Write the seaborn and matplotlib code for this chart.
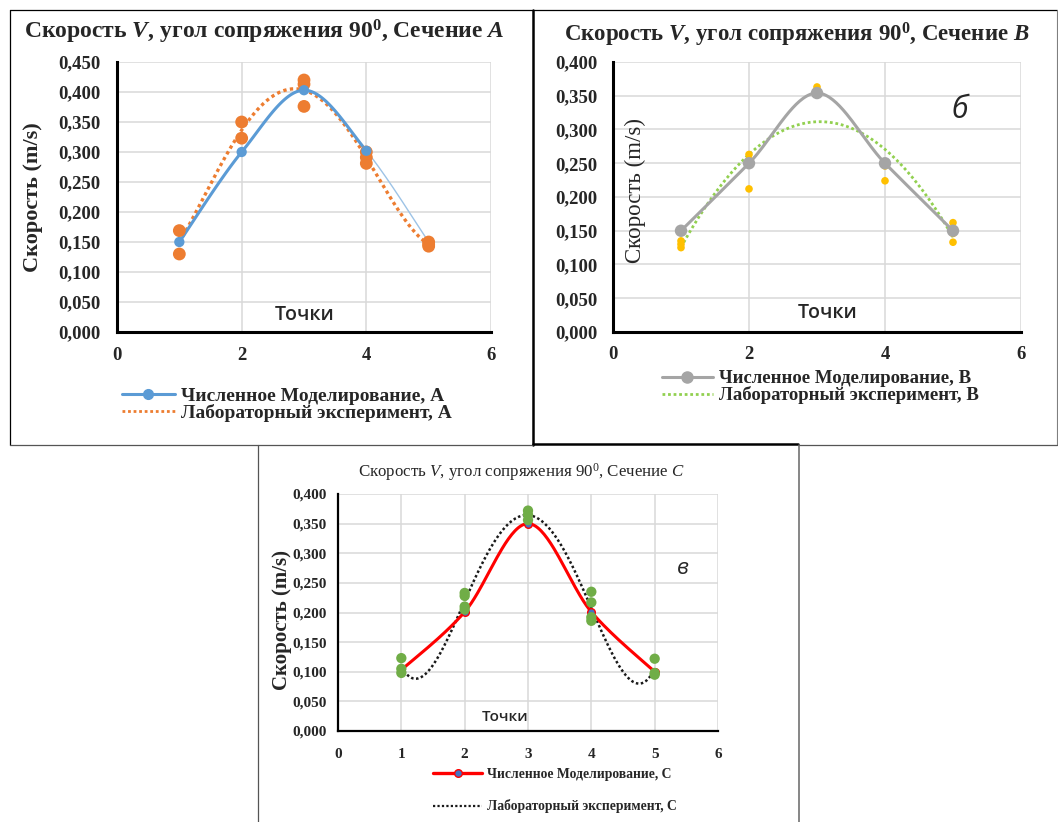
import numpy as np
import matplotlib
matplotlib.use("Agg")
import matplotlib.pyplot as plt
import seaborn as sns
from matplotlib.lines import Line2D

# ---------------- data ----------------
POINTS = [1, 2, 3, 4, 5]

A_SIM = [0.150, 0.300, 0.403, 0.302, 0.150]
A_LAB_X = [1, 1, 2, 2, 3, 3, 3, 4, 4, 4, 5, 5, 5]
A_LAB_Y = [0.169, 0.130, 0.350, 0.323, 0.420, 0.413, 0.376, 0.300, 0.291, 0.281, 0.150, 0.146, 0.143]

B_SIM = [0.150, 0.250, 0.354, 0.250, 0.150]
B_LAB_X = [1, 1, 1, 2, 2, 2, 3, 3, 4, 4, 5, 5, 5]
B_LAB_Y = [0.135, 0.130, 0.125, 0.263, 0.255, 0.212, 0.363, 0.358, 0.246, 0.224, 0.162, 0.146, 0.133]

C_SIM = [0.103, 0.201, 0.350, 0.201, 0.100]
C_LAB_X = [1, 1, 1, 2, 2, 2, 2, 3, 3, 3, 4, 4, 4, 4, 5, 5, 5]
C_LAB_Y = [0.123, 0.105, 0.098, 0.233, 0.228, 0.210, 0.205, 0.372, 0.365, 0.356,
           0.235, 0.217, 0.192, 0.186, 0.122, 0.098, 0.095]

A_YTICKS = [0.000, 0.050, 0.100, 0.150, 0.200, 0.250, 0.300, 0.350, 0.400, 0.450]
BC_YTICKS = [0.000, 0.050, 0.100, 0.150, 0.200, 0.250, 0.300, 0.350, 0.400]
AB_XTICKS = [0, 2, 4, 6]
C_XTICKS = [0, 1, 2, 3, 4, 5, 6]

TITLE_A = r"Скорость $\mathit{V}$, угол сопряжения 90$^{\mathrm{0}}$, Сечение $\mathit{A}$"
TITLE_B = r"Скорость $\mathit{V}$, угол сопряжения 90$^{\mathrm{0}}$, Сечение $\mathit{B}$"
TITLE_C = r"Скорость $\mathsf{V}$, угол сопряжения 90$^{\mathtt{0}}$, Сечение $\mathsf{C}$"
YLABEL = "Скорость (m/s)"
XLABEL = "Точки"
LEG_A = ["Численное Моделирование, А", "Лабораторный эксперимент, А"]
LEG_B = ["Численное Моделирование, B", "Лабораторный эксперимент, B"]
LEG_C = ["Численное Моделирование, C", "Лабораторный эксперимент, C"]

# ---------------- style ----------------
sns.set_style("white")
plt.rcParams["font.family"] = ["Liberation Serif", "DejaVu Serif"]
plt.rcParams["mathtext.fontset"] = "custom"
plt.rcParams["mathtext.rm"] = "Liberation Serif:bold"
plt.rcParams["mathtext.it"] = "Liberation Serif:italic:bold"
plt.rcParams["mathtext.sf"] = "Liberation Serif:italic"
plt.rcParams["mathtext.tt"] = "Liberation Serif"

W, H = 1058, 822
fig = plt.figure(figsize=(W / 100, H / 100), dpi=100)


def fx(px):
    return px / W


def fy(py):
    return 1 - py / H


def add_axes(l, t, r, b):
    return fig.add_axes([fx(l), fy(b), fx(r) - fx(l), (b - t) / H])


def smooth(x, y, n=40):
    P = np.column_stack([np.asarray(x, float), np.asarray(y, float)])
    Pe = np.vstack([P[0], P, P[-1]])
    segs = []
    for i in range(len(P) - 1):
        p0, p1, p2, p3 = Pe[i], Pe[i + 1], Pe[i + 2], Pe[i + 3]
        c1 = p1 + (p2 - p0) / 6
        c2 = p2 - (p3 - p1) / 6
        t = np.linspace(0, 1, n)[:, None]
        s = (1 - t) ** 3 * p1 + 3 * (1 - t) ** 2 * t * c1 + 3 * (1 - t) * t ** 2 * c2 + t ** 3 * p2
        segs.append(s if i == 0 else s[1:])
    S = np.vstack(segs)
    return S[:, 0], S[:, 1]


def trend(x, y, order):
    xt = np.linspace(min(x), max(x), 300)
    return xt, np.polyval(np.polyfit(x, y, order), xt)


def setup(ax, xticks, yticks, ymax, fs, spine_lw, ypad, xpad):
    ax.set_xlim(0, 6)
    ax.set_ylim(0, ymax)
    ax.set_xticks(xticks)
    ax.set_xticklabels([str(v) for v in xticks])
    ax.set_yticks(yticks)
    ax.set_yticklabels([f"{v:.3f}".replace(".", ",") for v in yticks])
    for lab in ax.get_xticklabels() + ax.get_yticklabels():
        lab.set_fontsize(fs)
        lab.set_fontweight("bold")
        lab.set_fontfamily("Liberation Serif")
    ax.tick_params(axis="both", length=0)
    ax.tick_params(axis="y", pad=ypad)
    ax.tick_params(axis="x", pad=xpad)
    ax.grid(True, color="#d9d9d9", lw=1.1)
    ax.set_axisbelow(True)
    for s in ["top", "right"]:
        ax.spines[s].set_visible(False)
    for s in ["left", "bottom"]:
        ax.spines[s].set_color("black")
        ax.spines[s].set_linewidth(spine_lw)
    ax.set_xlabel("")
    ax.set_ylabel("")
    ax.set_facecolor("white")


DOT = (0, (1, 1))

# ---------------- panel A ----------------
axA = add_axes(117, 62, 491, 332)
BLUE, ORANGE = "#5B9BD5", "#ED7D31"
tx, ty = trend(A_LAB_X, A_LAB_Y, 4)
sns.lineplot(x=tx, y=ty, ax=axA, color=ORANGE, lw=2.4, linestyle=DOT, sort=False, estimator=None, zorder=3)
sx, sy = smooth(POINTS, A_SIM)
sns.lineplot(x=sx, y=sy, ax=axA, color="#9DC3E6", lw=1.0, sort=False, estimator=None, zorder=4)
m = sx <= 4
sns.lineplot(x=sx[m], y=sy[m], ax=axA, color=BLUE, lw=2.2, sort=False, estimator=None, zorder=4)
sns.scatterplot(x=A_LAB_X, y=A_LAB_Y, ax=axA, color=ORANGE, s=85, edgecolor="none", zorder=5)
sns.scatterplot(x=POINTS[:4], y=A_SIM[:4], ax=axA, color=BLUE, s=55, edgecolor="none", zorder=6)
setup(axA, AB_XTICKS, A_YTICKS, 0.45, 13.5, 2.2, 12, 11)

# ---------------- panel B ----------------
axB = add_axes(613, 62, 1021, 332)
GRAY, YEL, GREEN = "#A5A5A5", "#FFC000", "#92D050"
tx, ty = trend(B_LAB_X, B_LAB_Y, 2)
sns.lineplot(x=tx, y=ty, ax=axB, color=GREEN, lw=2.0, linestyle=DOT, sort=False, estimator=None, zorder=3)
sx, sy = smooth(POINTS, B_SIM)
sns.lineplot(x=sx, y=sy, ax=axB, color=GRAY, lw=2.2, sort=False, estimator=None, zorder=4)
sns.scatterplot(x=B_LAB_X, y=B_LAB_Y, ax=axB, color=YEL, s=30, edgecolor="none", zorder=5)
sns.scatterplot(x=POINTS, y=B_SIM, ax=axB, color=GRAY, s=80, edgecolor="none", zorder=6)
setup(axB, AB_XTICKS, BC_YTICKS, 0.40, 13.5, 2.2, 11, 10)

# ---------------- panel C ----------------
axC = add_axes(338, 494, 718, 731)
RED, MBLUE, LGREEN = "#FF0000", "#4472C4", "#70AD47"
tx, ty = trend(C_LAB_X, C_LAB_Y, 4)
sns.lineplot(x=tx, y=ty, ax=axC, color="#1a1a1a", lw=1.8, linestyle=DOT, sort=False, estimator=None, zorder=3)
sx, sy = smooth(POINTS, C_SIM)
sns.lineplot(x=sx, y=sy, ax=axC, color=RED, lw=2.2, sort=False, estimator=None, zorder=4)
sns.scatterplot(x=POINTS, y=C_SIM, ax=axC, color=MBLUE, s=30, edgecolor=RED, linewidth=1, zorder=5)
sns.scatterplot(x=C_LAB_X, y=C_LAB_Y, ax=axC, color=LGREEN, s=55, marker="o", edgecolor="none", zorder=6)
setup(axC, C_XTICKS, BC_YTICKS, 0.40, 11, 1.6, 8, 12)

# ---------------- texts ----------------
fig.text(fx(264), fy(32), TITLE_A, ha="center", va="center", fontsize=17, fontweight="bold")
fig.text(fx(797), fy(35), TITLE_B, ha="center", va="center", fontsize=16.5, fontweight="bold")
fig.text(fx(521), fy(472), TITLE_C, ha="center", va="center", fontsize=12.2)

fig.text(fx(33), fy(197), YLABEL, ha="center", va="center", rotation=90, fontsize=16, fontweight="bold")
fig.text(fx(635), fy(190), YLABEL, ha="center", va="center", rotation=90, fontsize=16.5)
fig.text(fx(282), fy(620), YLABEL, ha="center", va="center", rotation=90, fontsize=15, fontweight="bold")

for (x, y, fs) in [(305, 315, 14), (828, 313, 14), (505, 717, 11)]:
    fig.text(fx(x), fy(y), XLABEL, ha="center", va="center", fontsize=fs, family="Open Sans",
             fontweight="semibold")

fig.text(fx(960), fy(110), "б", ha="center", va="center", fontsize=22, style="italic", family="Open Sans")
fig.text(fx(683), fy(568), "в", ha="center", va="center", fontsize=16, style="italic", family="Open Sans")

# ---------------- legends ----------------
def legend(handles, labels, x, y, fs, hl, spacing, weight="bold"):
    lg = fig.legend(handles, labels, loc="upper left", bbox_to_anchor=(fx(x), fy(y)),
                    frameon=False, borderpad=0, borderaxespad=0, handlelength=hl,
                    handletextpad=0.35, labelspacing=spacing,
                    prop={"family": "Liberation Serif", "weight": weight, "size": fs})
    return lg

legend([Line2D([], [], color=BLUE, lw=2.2, marker="o", ms=7, mec=BLUE),
        Line2D([], [], color=ORANGE, lw=2.0, ls=DOT)], LEG_A, 122, 387, 14, 2.7, -0.05)
legend([Line2D([], [], color=GRAY, lw=2.2, marker="o", ms=8, mec=GRAY),
        Line2D([], [], color=GREEN, lw=2.0, ls=DOT)], LEG_B, 662, 370, 13.5, 2.7, -0.05)
legend([Line2D([], [], color=RED, lw=2.4, marker="o", ms=5.5, mfc=MBLUE, mec=RED),
        Line2D([], [], color="#1a1a1a", lw=1.6, ls=DOT)], LEG_C, 433, 768, 9.8, 3.6, 1.35)

# ---------------- panel frames ----------------
frames = [
    ((10, 10), (1057, 10), "black", 0.9),
    ((10, 10), (10, 445), "black", 0.9),
    ((533, 10), (533, 445), "black", 1.8),
    ((1057, 10), (1057, 445), "#7f7f7f", 0.8),
    ((10, 445), (533, 445), "#555555", 0.9),
    ((533, 444), (798, 444), "black", 1.8),
    ((798, 445), (1057, 445), "#555555", 0.9),
    ((258, 445), (258, 822), "#555555", 0.9),
    ((799, 445), (799, 822), "#666666", 1.1),
]
for (x0, y0), (x1, y1), c, lw in frames:
    fig.add_artist(Line2D([fx(x0), fx(x1)], [fy(y0), fy(y1)], color=c, lw=lw,
                          transform=fig.transFigure))

fig.savefig("out.png", dpi=100)
